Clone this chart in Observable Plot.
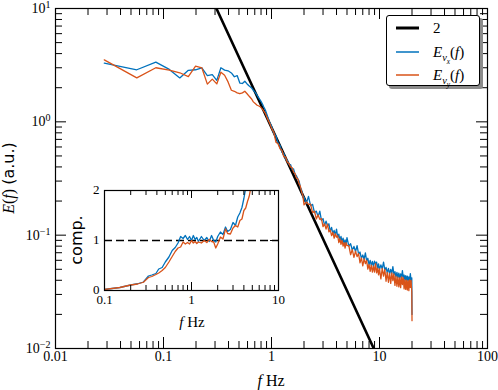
<!DOCTYPE html>
<html><head><meta charset="utf-8">
<script src="https://cdn.jsdelivr.net/npm/d3@7"></script>
<script src="https://cdn.jsdelivr.net/npm/@observablehq/plot@0.6"></script>
<style>
body{margin:0;background:#fff;}
#wrap{position:relative;width:498px;height:390px;overflow:hidden;}
#wrap svg{position:absolute;}
#legend{position:absolute;left:386px;top:15px;width:92px;height:69px;border:1px solid #000;border-radius:3px;background:#fff;box-shadow:3px 3px 0 #8c8c8c;font-family:"Liberation Serif","DejaVu Serif","Times New Roman",serif;font-size:15px;}
#legend .row{position:absolute;left:0;height:20px;width:92px;}
#legend .row svg{position:absolute;left:8px;top:0;}
#legend .row span{position:absolute;left:46px;top:1px;line-height:18px;white-space:nowrap;}
sub{font-size:70%;line-height:0;}
</style></head><body><div id="wrap"></div>
<script>
// ---- main spectra (frequency in Hz, energy spectra in a.u.) ----
const freq = [0.0283,0.0566,0.0849,0.1132,0.1415,0.1698,0.1981,0.2264,0.2547,0.2830,0.3113,
0.340,0.368,0.396,0.425,0.453,0.481,0.509,0.538,0.566,0.594,0.622,0.651,0.679,0.707,0.736,0.764,0.792,0.820,0.849,0.877,0.905,0.934,0.962,
1.00,1.05,1.10,1.15,1.20,1.25,1.30,1.35,1.40,1.45,1.50,1.55,1.60,1.65,1.70,1.75,1.80,1.85,1.90,1.95,
2.0,2.1,2.2,2.3,2.4,2.5,2.6,2.7,2.8,2.9,3.0,3.1,3.2,3.3,3.4,3.5,3.6,3.7,3.8,3.9,4.0,4.1,4.2,4.3,4.4,4.5,4.6,4.7,4.8,4.9,5.0,
5.2,5.4,5.6,5.8,6.0,6.2,6.4,6.6,6.8,7.0,7.2,7.4,7.6,7.8,8.0,8.2,8.4,8.6,8.8,9.0,9.2,9.4,9.6,9.8,10.0,
10.3,10.6,10.9,11.2,11.5,11.8,12.1,12.4,12.7,13.0,13.3,13.6,13.9,14.2,14.5,14.8,15.1,15.4,15.7,16.0,16.3,16.6,16.9,17.2,17.5,17.8,18.1,18.4,18.7,19.0,19.3,19.6,19.9,20.0];
const Evx = [3.29,2.88,3.36,2.90,2.44,2.85,2.88,3.00,2.56,2.61,2.32,
3.00,2.86,2.82,2.70,2.50,2.56,2.20,2.18,2.28,2.16,2.07,2.00,1.90,1.82,1.71,1.62,1.54,1.45,1.35,1.27,1.17,1.07,0.99,
0.92,0.79,0.75,0.65,0.62,0.54,0.525,0.47,0.46,0.42,0.42,0.38,0.385,0.345,0.335,0.315,0.30,0.265,0.25,0.22,
0.217,0.190,0.220,0.182,0.187,0.158,0.163,0.146,0.163,0.135,0.140,0.122,0.133,0.121,0.126,0.108,0.117,0.103,0.110,0.100,0.113,0.096,0.102,0.090,0.0975,0.087,0.094,0.0835,0.091,0.083,0.095,
0.080,0.084,0.074,0.0795,0.0717,0.0807,0.0682,0.071,0.0624,0.0668,0.0613,0.0698,0.0593,0.0625,0.0547,0.0599,0.0538,0.0588,0.0528,0.0590,0.0555,0.0579,0.0507,0.0557,0.0499,
0.0546,0.0504,0.0578,0.0494,0.0519,0.0466,0.0509,0.0456,0.0498,0.0460,0.0527,0.0450,0.0477,0.0429,0.0470,0.0422,0.0463,0.0416,0.0456,0.0423,0.0487,0.0417,0.0445,0.0400,0.0440,0.0396,0.0435,0.0392,0.0429,0.0398,0.0458,0.0394,0.0420,0.0200];
const Evy = [3.52,2.44,3.00,2.86,2.71,2.51,3.10,3.00,2.15,2.38,2.16,
2.74,2.58,2.25,1.90,1.86,1.80,1.77,1.80,1.86,1.77,1.68,1.60,1.50,1.45,1.40,1.38,1.35,1.30,1.24,1.19,1.10,1.03,0.97,
0.88,0.81,0.66,0.64,0.58,0.56,0.49,0.49,0.44,0.43,0.40,0.395,0.36,0.35,0.32,0.315,0.285,0.27,0.24,0.225,
0.185,0.196,0.187,0.188,0.158,0.163,0.139,0.151,0.138,0.140,0.119,0.126,0.113,0.125,0.107,0.111,0.099,0.106,0.094,0.103,0.096,0.099,0.086,0.093,0.083,0.090,0.080,0.086,0.077,0.086,0.081,
0.0809,0.0672,0.0747,0.0638,0.0724,0.0647,0.0689,0.0570,0.0631,0.0536,0.0619,0.0560,0.0599,0.0502,0.0553,0.0480,0.0543,0.0472,0.0534,0.0473,0.0560,0.0464,0.0512,0.0446,0.0504,
0.0412,0.0510,0.0436,0.0500,0.0392,0.0470,0.0384,0.0461,0.0376,0.0465,0.0397,0.0455,0.0360,0.0434,0.0354,0.0427,0.0350,0.0420,0.0344,0.0428,0.0367,0.0422,0.0336,0.0404,0.0332,0.0400,0.0328,0.0396,0.0324,0.0403,0.0346,0.0398,0.0317,0.0176];
// reference power law (legend "2")
const lawF = [0.309, 8.85];
const lawE = [10, 0.01];
// ---- inset: compensated spectra ----
const compF = [0.10,0.15,0.20,0.24,0.28,0.32,0.35,0.39,0.42,0.46,0.50,0.55,0.60,0.65,0.70,0.75,0.80,0.85,0.90,0.95,1.0,1.05,1.1,1.15,1.2,1.3,1.4,1.5,1.6,1.7,1.8,1.9,2.0,2.15,2.3,2.46,2.6,2.8,3.0,3.2,3.4,3.6,3.8,4.0,4.2,4.4,4.6,4.8,5.0];
const compX = [.02,.06,.11,.135,.17,.29,.31,.34,.43,.46,.57,.67,.80,.86,.95,1.08,1.04,1.10,1.02,1.08,1.00,1.10,1.02,1.06,.98,1.08,1.00,1.06,.98,1.10,1.00,.97,1.08,1.17,1.12,1.27,1.18,1.22,1.36,1.30,1.47,1.55,1.66,1.84,2.05,2.2,2.4,2.5,2.6];
const compY = [.02,.06,.11,.13,.165,.26,.28,.32,.35,.40,.46,.57,.68,.78,.85,.87,.97,.93,.96,.93,1.0,.95,.98,.94,.97,.95,1.0,.96,1.02,.98,.97,.85,.93,1.07,1.03,1.23,1.14,1.13,1.25,1.30,1.27,1.40,1.43,1.60,1.65,1.78,1.88,2.05,2.2];
const compRef = [1];
// ---- ticks ----
const xMajor = [0.01,0.1,1,10,100];
const xMajorLabels = ["0.01","0.1","1","10","100"];
const yMajor = [0.01,0.1,1,10];
const yMajorLabels = ["10^−2","10^−1","10^0","10^1"];
const insetXMajor = [0.1,1,10];
const insetXLabels = ["0.1","1","10"];
const insetYMajor = [0,1,2];
const insetYLabels = ["0","1","2"];
const mult = [2,3,4,5,6,7,8,9];
const xMinor = [0.01,0.1,1,10].flatMap(d => mult.map(m => m*d));
const yMinor = [0.01,0.1,1].flatMap(d => mult.map(m => m*d));
const insetXMinor = [0.1,1].flatMap(d => mult.map(m => m*d));

const spec = freq.map((f,i) => ({f, ex: Evx[i], ey: Evy[i]}));
const law = lawF.map((f,i) => ({f, e: lawE[i]}));
const comp = compF.map((f,i) => ({f, cx: compX[i], cy: compY[i]}));

const BLUE = "#0072bd", ORANGE = "#d95319";
const SERIF = "'Liberation Serif','DejaVu Serif','Times New Roman',serif";
const SANS = "'DejaVu Sans',sans-serif";

function sup(svg){
  svg.querySelectorAll("text").forEach(t => {
    const s = t.textContent;
    const m = /^10\^(.+)$/.exec(s);
    if (!m) return;
    while (t.firstChild) t.removeChild(t.firstChild);
    const a = document.createElementNS("http://www.w3.org/2000/svg","tspan");
    a.textContent = "10";
    const b = document.createElementNS("http://www.w3.org/2000/svg","tspan");
    b.textContent = m[1];
    b.setAttribute("font-size","10");
    b.setAttribute("dy","-5");
    t.appendChild(a); t.appendChild(b);
  });
}

// ---- main chart ----
const W=498,H=390,mL=55,mR=11,mT=8,mB=42;
const pW=W-mL-mR, pH=H-mT-mB;
const MJ=11, MN=7;
const main = Plot.plot({
  width:W,height:H,marginLeft:mL,marginRight:mR,marginTop:mT,marginBottom:mB,
  style:{background:"white",color:"black",fontFamily:SERIF},
  x:{type:"log",domain:[0.01,100],axis:null},
  y:{type:"log",domain:[0.01,10],axis:null},
  marks:[
    Plot.line(law,{x:"f",y:"e",stroke:"black",strokeWidth:2.6,clip:true}),
    Plot.line(spec,{x:"f",y:"ex",stroke:BLUE,strokeWidth:1.3,clip:true}),
    Plot.line(spec,{x:"f",y:"ey",stroke:ORANGE,strokeWidth:1.3,clip:true}),
    Plot.tickX(xMajor,{x:d=>d,insetTop:pH-MJ,stroke:"black"}),
    Plot.tickX(xMajor,{x:d=>d,insetBottom:pH-MJ,stroke:"black"}),
    Plot.tickX(xMinor,{x:d=>d,insetTop:pH-MN,stroke:"black"}),
    Plot.tickX(xMinor,{x:d=>d,insetBottom:pH-MN,stroke:"black"}),
    Plot.tickY(yMajor,{y:d=>d,insetRight:pW-MJ,stroke:"black"}),
    Plot.tickY(yMajor,{y:d=>d,insetLeft:pW-MJ,stroke:"black"}),
    Plot.tickY(yMinor,{y:d=>d,insetRight:pW-MN,stroke:"black"}),
    Plot.tickY(yMinor,{y:d=>d,insetLeft:pW-MN,stroke:"black"}),
    Plot.frame({stroke:"black",strokeWidth:1.2}),
    Plot.text(xMajor,{x:d=>d,text:xMajorLabels,frameAnchor:"bottom",dy:12,fontSize:14,fontFamily:SERIF,fill:"black"}),
    Plot.text(yMajor,{y:d=>d,text:yMajorLabels,frameAnchor:"left",dx:-5,textAnchor:"end",fontSize:14,fontFamily:SERIF,fill:"black"})
  ]
});
sup(main);
main.style.left="0px"; main.style.top="0px";
// axis titles
{
  const g = d3.select(main).append("g").attr("fill","black");
  const xl = g.append("text").attr("x",271).attr("y",386).attr("text-anchor","middle").attr("font-size",16).attr("font-family",SERIF);
  xl.append("tspan").attr("font-style","italic").text("f");
  xl.append("tspan").text(" Hz");
  const yl = g.append("text").attr("transform","translate(14,178) rotate(-90)").attr("text-anchor","middle").attr("font-size",16);
  yl.append("tspan").attr("font-family",SERIF).attr("font-style","italic").text("E");
  yl.append("tspan").attr("font-family",SERIF).text("(");
  yl.append("tspan").attr("font-family",SERIF).attr("font-style","italic").text("f");
  yl.append("tspan").attr("font-family",SERIF).text(") ");
  yl.append("tspan").attr("font-family",SANS).text("(a.u.)");
}
document.getElementById("wrap").appendChild(main);

// ---- inset ----
const iW=230,iH=155,iL=44,iT=10,iR=12,iB=45;
const ipW=iW-iL-iR, ipH=iH-iT-iB;
const IMJ=8, IMN=5;
const inset = Plot.plot({
  width:iW,height:iH,marginLeft:iL,marginRight:iR,marginTop:iT,marginBottom:iB,
  style:{background:"transparent",color:"black",fontFamily:SERIF},
  x:{type:"log",domain:[0.1,10],axis:null},
  y:{domain:[0,2],axis:null},
  marks:[
    Plot.frame({fill:"white"}),
    Plot.ruleY(compRef,{y:d=>d,stroke:"black",strokeWidth:1.3,strokeDasharray:"8,4"}),
    Plot.line(comp,{x:"f",y:"cx",stroke:BLUE,strokeWidth:1.3,clip:true}),
    Plot.line(comp,{x:"f",y:"cy",stroke:ORANGE,strokeWidth:1.3,clip:true}),
    Plot.tickX(insetXMajor,{x:d=>d,insetTop:ipH-IMJ,stroke:"black"}),
    Plot.tickX(insetXMajor,{x:d=>d,insetBottom:ipH-IMJ,stroke:"black"}),
    Plot.tickX(insetXMinor,{x:d=>d,insetTop:ipH-IMN,stroke:"black"}),
    Plot.tickX(insetXMinor,{x:d=>d,insetBottom:ipH-IMN,stroke:"black"}),
    Plot.tickY(insetYMajor,{y:d=>d,insetRight:ipW-IMJ,stroke:"black"}),
    Plot.tickY(insetYMajor,{y:d=>d,insetLeft:ipW-IMJ,stroke:"black"}),
    Plot.frame({stroke:"black",strokeWidth:1.2}),
    Plot.text(insetXMajor,{x:d=>d,text:insetXLabels,frameAnchor:"bottom",dy:13.5,fontSize:13,fontFamily:SERIF,fill:"black"}),
    Plot.text(insetYMajor,{y:d=>d,text:insetYLabels,frameAnchor:"left",dx:-5,dy:-1,textAnchor:"end",fontSize:13,fontFamily:SERIF,fill:"black"})
  ]
});
inset.style.left="60px"; inset.style.top="180px";
{
  const g = d3.select(inset).append("g").attr("fill","black");
  const xl = g.append("text").attr("x",132).attr("y",147).attr("text-anchor","middle").attr("font-size",15).attr("font-family",SERIF);
  xl.append("tspan").attr("font-style","italic").text("f");
  xl.append("tspan").text(" Hz");
  g.append("text").attr("transform","translate(22,60) rotate(-90)").attr("text-anchor","middle").attr("font-size",16).attr("font-family",SANS).text("comp.");
}
document.getElementById("wrap").appendChild(inset);

// ---- legend ----
const legendItems = [
  {label:"2", color:"black", width:3},
  {label:"<i>E</i><sub><i>v<sub>x</sub></i></sub>(<i>f</i>)", color:BLUE, width:1.5},
  {label:"<i>E</i><sub><i>v<sub>y</sub></i></sub>(<i>f</i>)", color:ORANGE, width:1.5}
];
const leg = document.createElement("div");
leg.id="legend";
legendItems.forEach((it,i) => {
  const r = document.createElement("div");
  r.className="row";
  r.style.top = (2 + i*23.5) + "px";
  r.innerHTML = `<svg width="26" height="20"><line x1="1" x2="24" y1="10" y2="10" stroke="${it.color}" stroke-width="${it.width}"/></svg><span>${it.label}</span>`;
  leg.appendChild(r);
});
document.getElementById("wrap").appendChild(leg);
</script></body></html>
